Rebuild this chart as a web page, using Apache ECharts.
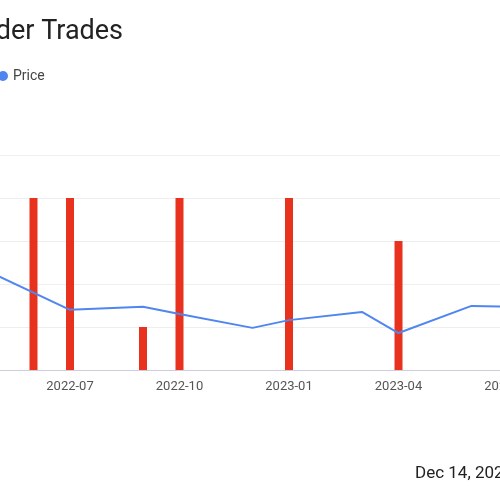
<!DOCTYPE html>
<html>
<head>
<meta charset="utf-8">
<script src="https://cdn.jsdelivr.net/npm/echarts@6/dist/echarts.min.js"></script>
<style>html,body{margin:0;padding:0;background:#fff}#chart{width:500px;height:500px}</style>
</head>
<body>
<div id="chart"></div>
<script>
const months = ['2022-05','2022-06','2022-07','2022-08','2022-09','2022-10','2022-11','2022-12',
  '2023-01','2023-02','2023-03','2023-04','2023-05','2023-06','2023-07'];
const trades = [null, 4, 4, null, 1, 4, null, null, 4, null, null, 3, null, null, null];
const price = [2.2, null, 1.4, null, 1.47, 1.3, null, 0.98, 1.16, null, 1.35, 0.86, null, 1.49, 1.47];

const chart = echarts.init(document.getElementById('chart'));

chart.setOption({
  animation: false,
  title: {
    text: 'Insider Trades', left: -52, top: 14,
    textStyle: { fontFamily: 'Roboto', fontSize: 27, fontWeight: 'normal', color: '#222' }
  },
  legend: {
    data: [{ name: 'Price', icon: 'circle' }], left: -7, top: 64,
    itemWidth: 10, itemHeight: 10,
    textStyle: { fontFamily: 'Roboto', fontSize: 14, color: '#444' }
  },
  graphic: [{
    type: 'text', left: 415, top: 465,
    style: { text: 'Dec 14, 2023', font: '17px Roboto', fill: '#222' }
  }],
  grid: { left: -3, right: -8, top: 155, bottom: 130, outerBoundsMode: 'none', containLabel: false },
  xAxis: {
    type: 'category', data: months, boundaryGap: false,
    axisLine: { lineStyle: { color: '#ccd' } },
    axisTick: { show: false },
    axisLabel: {
      interval: (i) => i % 3 === 2,
      fontFamily: 'Roboto', fontSize: 13, color: '#555', margin: 10
    }
  },
  yAxis: {
    type: 'value', min: 0, max: 5, interval: 1,
    axisLabel: { show: false },
    splitLine: { lineStyle: { color: '#eee' } }
  },
  series: [
    {
      name: 'Trades', type: 'bar', data: trades, barWidth: 8,
      itemStyle: { color: '#e8321e' }
    },
    {
      name: 'Price', type: 'line', data: price, connectNulls: true,
      showSymbol: false, lineStyle: { color: '#4f86f0', width: 2 },
      itemStyle: { color: '#4f86f0' }
    }
  ]
});
</script>
</body>
</html>
